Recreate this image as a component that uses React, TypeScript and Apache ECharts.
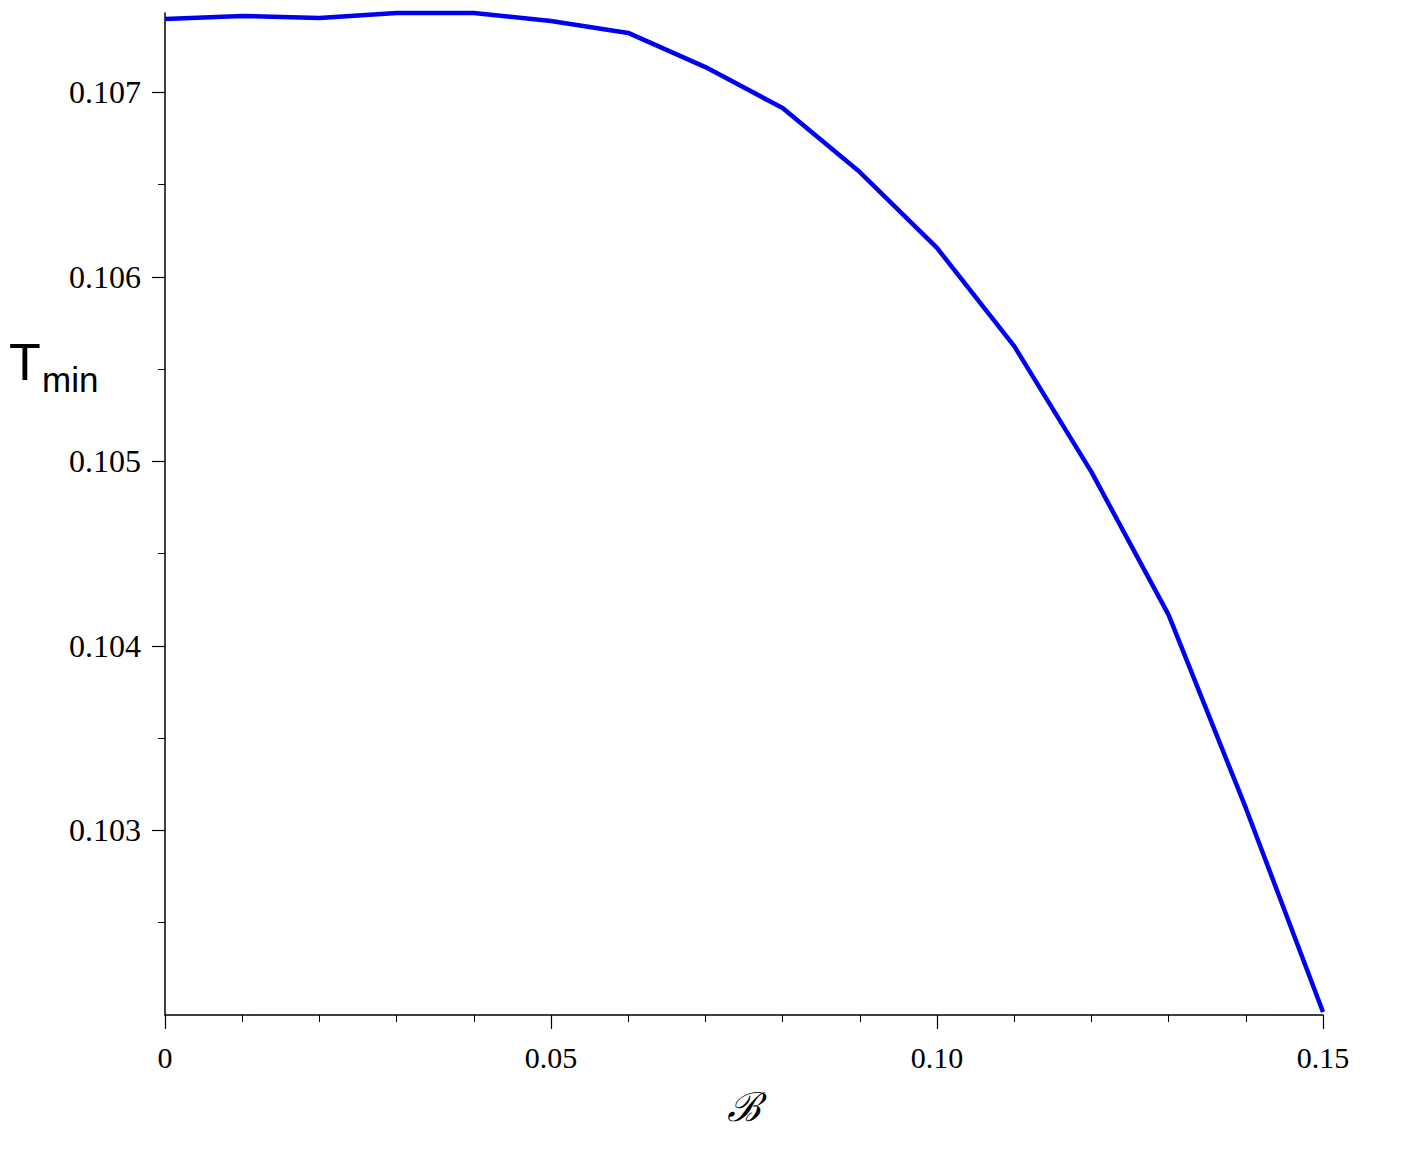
import React, { useEffect, useRef } from "react";
import * as echarts from "echarts";

const bValues = [0, 0.01, 0.02, 0.03, 0.04, 0.05, 0.06, 0.07, 0.08, 0.09, 0.1, 0.11, 0.12, 0.13, 0.14, 0.15];
const tMinValues = [
  0.107397, 0.107414, 0.107403, 0.10743, 0.10743, 0.107387, 0.107322, 0.107137,
  0.106915, 0.106568, 0.106157, 0.105625, 0.104943, 0.104168, 0.103122, 0.102016,
];
const yMajorTicks = [0.103, 0.104, 0.105, 0.106, 0.107];
const yMinorTicks = [0.1025, 0.1035, 0.1045, 0.1055, 0.1065];
const xMin = 0;
const xMax = 0.15;
const xInterval = 0.05;
const yMin = 0.102;
const yMax = 0.10743;

export default function App() {
  const ref = useRef<HTMLDivElement>(null);
  useEffect(() => {
    document.body.style.margin = "0";
    const chart = echarts.init(ref.current!, null, { renderer: "svg" });
    const serif = "'Liberation Serif', 'Times New Roman', serif";
    chart.setOption({
      animation: false,
      backgroundColor: "#ffffff",
      grid: { left: 165, right: 79, top: 13, bottom: 136 },
      xAxis: {
        type: "value",
        min: xMin,
        max: xMax,
        interval: xInterval,
        name: "ℬ",
        nameLocation: "middle",
        nameGap: 72,
        nameTextStyle: { fontFamily: "'DejaVu Serif', serif", fontStyle: "italic", fontSize: 40, color: "#000" },
        axisLine: { show: true, lineStyle: { color: "#000", width: 1.5 } },
        axisTick: { show: true, length: 14, lineStyle: { color: "#000", width: 1.2 } },
        minorTick: { show: true, splitNumber: 5, length: 7, lineStyle: { color: "#000", width: 1 } },
        splitLine: { show: false },
        minorSplitLine: { show: false },
        axisLabel: {
          margin: 27,
          fontFamily: serif,
          fontSize: 30,
          color: "#000",
          formatter: (v: number) => (v === 0 ? "0" : v.toFixed(2)),
        },
      },
      yAxis: [
        {
          type: "value",
          position: "left",
          min: yMin,
          max: yMax,
          axisLine: { show: true, lineStyle: { color: "#000", width: 1.5 } },
          axisTick: { show: true, length: 13, customValues: yMajorTicks, lineStyle: { color: "#000", width: 1.2 } },
          splitLine: { show: false },
          axisLabel: {
            margin: 24,
            fontFamily: serif,
            fontSize: 32,
            color: "#000",
            customValues: yMajorTicks,
            formatter: (v: number) => v.toFixed(3),
          },
        },
        {
          type: "value",
          position: "left",
          min: yMin,
          max: yMax,
          axisLine: { show: false },
          axisTick: { show: true, length: 7, customValues: yMinorTicks, lineStyle: { color: "#000", width: 1 } },
          splitLine: { show: false },
          axisLabel: { show: false, customValues: yMinorTicks },
        },
      ],
      graphic: [
        {
          type: "text",
          left: 9,
          top: 336,
          style: { text: "T", fontFamily: "'Liberation Sans', Arial, sans-serif", fontSize: 52, fill: "#000" },
        },
        {
          type: "text",
          left: 42,
          top: 362,
          style: { text: "min", fontFamily: "'Liberation Sans', Arial, sans-serif", fontSize: 35, fill: "#000" },
        },
      ],
      series: [
        {
          type: "line",
          data: bValues.map((b, i) => [b, tMinValues[i]]),
          showSymbol: false,
          symbol: "none",
          lineStyle: { color: "#0000f0", width: 4.5 },
          clip: false,
        },
      ],
    });
    return () => chart.dispose();
  }, []);
  return <div ref={ref} style={{ width: 1402, height: 1151 }} />;
}
